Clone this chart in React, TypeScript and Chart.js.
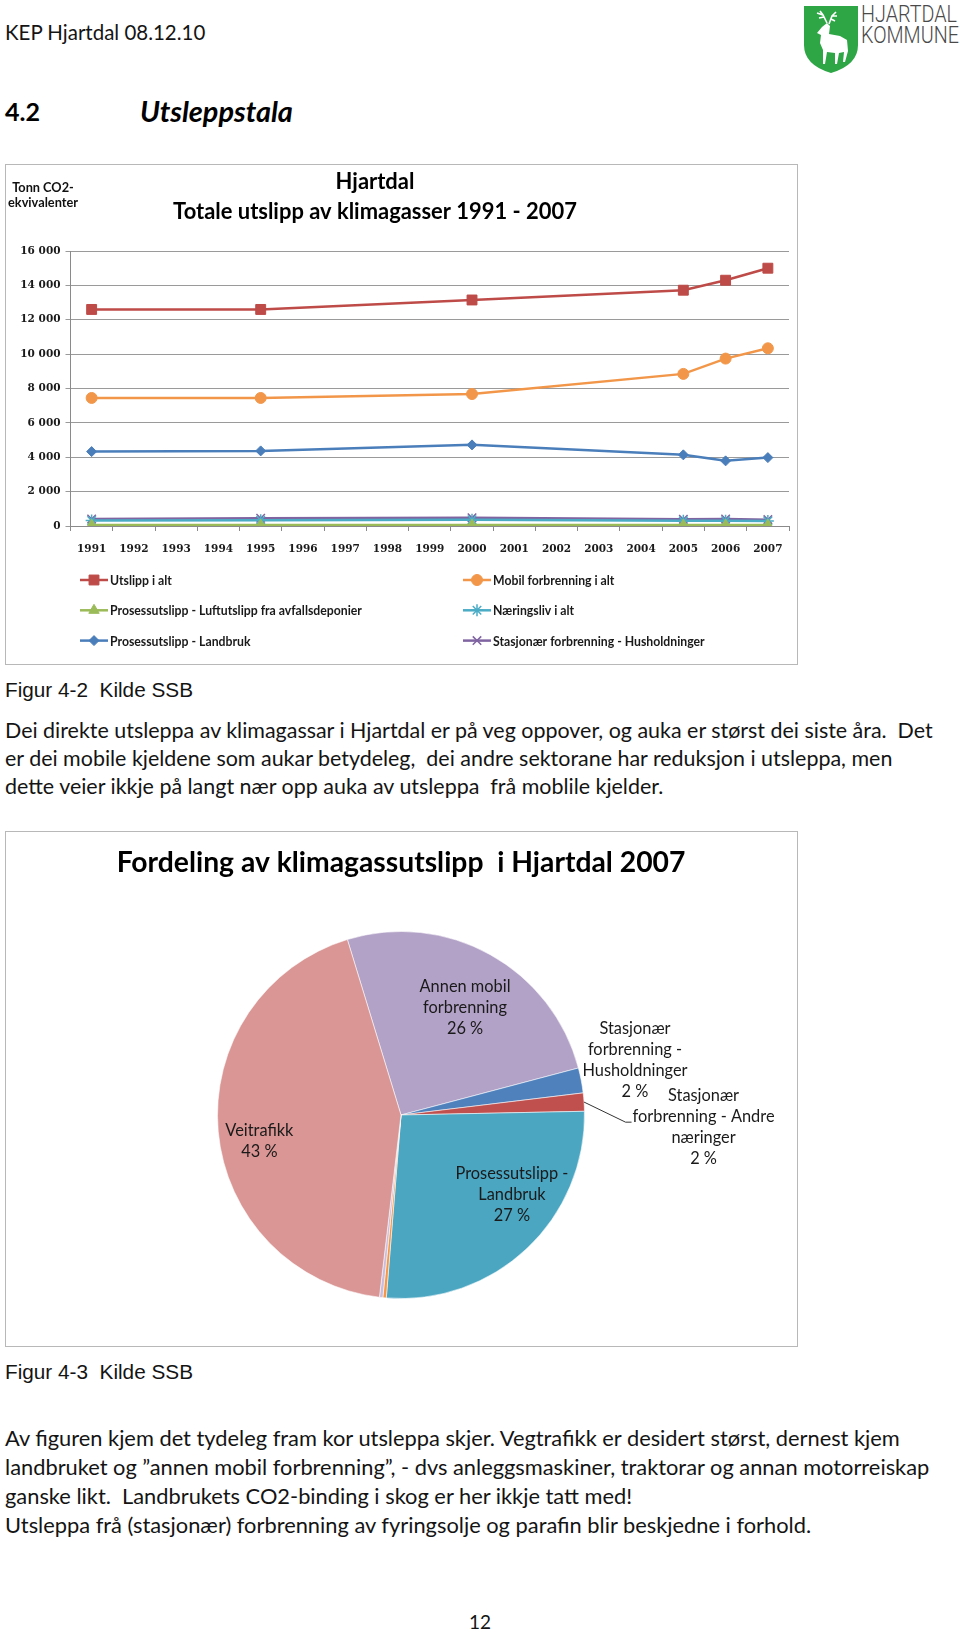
import React, { useEffect, useRef } from 'react';
import { Chart, registerables } from 'chart.js';
import { drawPoint } from 'chart.js/helpers';

Chart.register(...registerables);

if (typeof document !== 'undefined') {
  document.body.style.margin = '0';
  document.documentElement.style.overflow = 'hidden';
  document.body.style.overflow = 'hidden';
}

// ---------------- Data: line chart ----------------
const years = ['1991', '1992', '1993', '1994', '1995', '1996', '1997', '1998', '1999', '2000', '2001', '2002', '2003', '2004', '2005', '2006', '2007'];
const utslippIAlt = [12600, null, null, null, 12600, null, null, null, null, 13150, null, null, null, null, 13720, 14300, 15000];
const mobilForbrenning = [7450, null, null, null, 7450, null, null, null, null, 7680, null, null, null, null, 8850, 9740, 10340];
const luftutslippDeponier = [60, null, null, null, 60, null, null, null, null, 60, null, null, null, null, 60, 60, 60];
const naeringsliv = [320, null, null, null, 340, null, null, null, null, 360, null, null, null, null, 300, 310, 290];
const landbruk = [4330, null, null, null, 4370, null, null, null, null, 4720, null, null, null, null, 4140, 3790, 3980];
const husholdninger = [410, null, null, null, 450, null, null, null, null, 480, null, null, null, null, 390, 410, 370];
const lineSeriesNames = [
  'Utslipp i alt',
  'Mobil forbrenning i alt',
  'Prosessutslipp - Luftutslipp fra avfallsdeponier',
  'Næringsliv i alt',
  'Prosessutslipp - Landbruk',
  'Stasjonær forbrenning - Husholdninger',
];
const lineTitle = ['Hjartdal', 'Totale utslipp av klimagasser 1991 - 2007'];
const yAxisTitle = ['Tonn CO2-', 'ekvivalenter'];
const yMin = 0;
const yMax = 16000;
const yStep = 2000;

// ---------------- Data: pie chart ----------------
const pieTitle = 'Fordeling av klimagassutslipp  i Hjartdal 2007';
const pieNames = [
  ['Annen mobil', 'forbrenning'],
  ['Stasjonær', 'forbrenning -', 'Husholdninger'],
  ['Stasjonær', 'forbrenning - Andre', 'næringer'],
  ['Prosessutslipp -', 'Landbruk'],
  ['Prosessutslipp - Avfallsdeponier'],
  ['Andre kjelder'],
  ['Veitrafikk'],
];
const pieShares = [25.6, 2.2, 1.6, 26.6, 0.3, 0.3, 43.4];

// ---------------- Page text ----------------
const headerText = 'KEP Hjartdal 08.12.10';
const caption1 = 'Figur 4-2  Kilde SSB';
const caption2 = 'Figur 4-3  Kilde SSB';
const para1 = [
  'Dei direkte utsleppa av klimagassar i Hjartdal er på veg oppover, og auka er størst dei siste åra.  Det',
  'er dei mobile kjeldene som aukar betydeleg,  dei andre sektorane har reduksjon i utsleppa, men',
  'dette veier ikkje på langt nær opp auka av utsleppa  frå moblile kjelder.',
];
const para2 = [
  'Av figuren kjem det tydeleg fram kor utsleppa skjer. Vegtrafikk er desidert størst, dernest kjem',
  'landbruket og ”annen mobil forbrenning”, - dvs anleggsmaskiner, traktorar og annan motorreiskap',
  'ganske likt.  Landbrukets CO2-binding i skog er her ikkje tatt med!',
  'Utsleppa frå (stasjonær) forbrenning av fyringsolje og parafin blir beskjedne i forhold.',
];

// ---------------- Styles ----------------
const lineStyles = [
  { color: '#BE4B48', pointStyle: 'rect', radius: 7, bw: 1 },
  { color: '#F2974A', pointStyle: 'circle', radius: 5.5, bw: 1 },
  { color: '#9BBB59', pointStyle: 'triangle', radius: 6, bw: 1 },
  { color: '#4BACC6', pointStyle: 'star', radius: 6, bw: 1.5 },
  { color: '#4A7EBB', pointStyle: 'rectRot', radius: 5, bw: 1 },
  { color: '#7F64A1', pointStyle: 'crossRot', radius: 6, bw: 1.5 },
];
const pieColors = ['#B3A2C7', '#4F81BD', '#C0504D', '#4BA6C2', '#F79646', '#C9BDDD', '#D99694'];
// label placement relative to each slice: angle shift (deg) and radius fraction
const piePlacement = [
  { delta: 1.8, frac: 0.68 },
  { delta: -2.35, frac: 1.31 },
  { delta: 6.3, frac: 1.65, leader: true },
  { delta: -11, frac: 0.745 },
  null,
  null,
  { delta: -5.35, frac: 0.785 },
];

const SANS = 'Lato';

let _mctx: CanvasRenderingContext2D | null = null;
function mctx(): CanvasRenderingContext2D {
  if (!_mctx) _mctx = document.createElement('canvas').getContext('2d');
  return _mctx as CanvasRenderingContext2D;
}
function fitPx(text: string, weight: string, family: string, target: number, style = 'normal'): number {
  const c = mctx();
  c.font = `${style} ${weight} 100px ${family}`;
  const w = c.measureText(text).width || 1;
  return (100 * target) / w;
}
function fmt(v: number) {
  return String(v).replace(/\B(?=(\d{3})+(?!\d))/g, ' ');
}

const lineDecor = {
  id: 'lineDecor',
  afterDraw(chart: any) {
    const ctx = chart.ctx as CanvasRenderingContext2D;
    ctx.save();
    ctx.fillStyle = '#000';
    ctx.textAlign = 'center';
    ctx.textBaseline = 'middle';
    const ts = fitPx(lineTitle[1], 'bold', SANS, 404);
    ctx.font = `bold ${ts}px ${SANS}`;
    ctx.fillText(lineTitle[0], 369, 17);
    ctx.fillText(lineTitle[1], 369, 47);

    const ys = fitPx(yAxisTitle[1], 'bold', SANS, 70);
    ctx.font = `bold ${ys}px ${SANS}`;
    ctx.fillStyle = '#111';
    ctx.fillText(yAxisTitle[0], 37, 23);
    ctx.fillText(yAxisTitle[1], 37, 38);

    // legend, two columns
    const ls = fitPx(lineSeriesNames[2], 'bold', SANS, 252);
    ctx.textAlign = 'left';
    ctx.font = `bold ${ls}px ${SANS}`;
    chart.data.datasets.forEach((ds: any, i: number) => {
      const col = i % 2;
      const row = Math.floor(i / 2);
      const x0 = col === 0 ? 74 : 457;
      const y0 = 415 + row * 30.3;
      ctx.strokeStyle = ds.borderColor;
      ctx.lineWidth = 2.5;
      ctx.beginPath();
      ctx.moveTo(x0, y0);
      ctx.lineTo(x0 + 28, y0);
      ctx.stroke();
      ctx.fillStyle = ds.pointBackgroundColor;
      ctx.strokeStyle = ds.pointBorderColor;
      ctx.lineWidth = ds.pointBorderWidth;
      drawPoint(ctx, { pointStyle: ds.pointStyle, radius: ds.pointRadius, rotation: 0, borderWidth: ds.pointBorderWidth } as any, x0 + 14, y0);
      ctx.fillStyle = '#1a1a1a';
      ctx.fillText(ds.label, x0 + 30, y0 + 1);
    });
    ctx.restore();
  },
};

const pieDecor = {
  id: 'pieDecor',
  afterDraw(chart: any) {
    const ctx = chart.ctx as CanvasRenderingContext2D;
    ctx.save();
    ctx.fillStyle = '#000';
    ctx.textAlign = 'center';
    ctx.textBaseline = 'middle';
    const ts = fitPx(pieTitle, 'bold', SANS, 569);
    ctx.font = `bold ${ts}px ${SANS}`;
    ctx.fillText(pieTitle, 395, 31);

    const fs = fitPx('Annen mobil', 'normal', SANS, 91);
    ctx.font = `normal ${fs}px ${SANS}`;
    const lh = 21;
    const meta = chart.getDatasetMeta(0);
    const values = chart.data.datasets[0].data as number[];
    const total = values.reduce((a, b) => a + b, 0);
    meta.data.forEach((arc: any, i: number) => {
      const place = piePlacement[i];
      if (!place) return;
      const p = arc.getProps(['x', 'y', 'startAngle', 'endAngle', 'outerRadius'], true);
      const mid = (p.startAngle + p.endAngle) / 2;
      const a = mid + (place.delta * Math.PI) / 180;
      const lx = p.x + Math.cos(a) * p.outerRadius * place.frac;
      const ly = p.y + Math.sin(a) * p.outerRadius * place.frac;
      const lines = [...pieNames[i], `${Math.round((values[i] / total) * 100)} %`];
      const n = lines.length;
      ctx.fillStyle = '#1a1a1a';
      lines.forEach((t, k) => ctx.fillText(t, lx, ly + (k - (n - 1) / 2) * lh));
      if ((place as any).leader) {
        const w2 = ctx.measureText(lines[1]).width;
        const left = lx - w2 / 2;
        const ey = ly + (1 - (n - 1) / 2) * lh + fs * 0.35;
        const sx = p.x + Math.cos(mid) * p.outerRadius;
        const sy = p.y + Math.sin(mid) * p.outerRadius;
        ctx.strokeStyle = '#333';
        ctx.lineWidth = 1;
        ctx.beginPath();
        ctx.moveTo(sx, sy);
        ctx.lineTo(left - 7, ey);
        ctx.lineTo(left - 1, ey);
        ctx.stroke();
      }
    });
    ctx.restore();
  },
};

function TextLine(props: {
  text: string; x: number; cy: number; size: number; family: string;
  weight?: string; italic?: boolean; color?: string; center?: boolean;
}) {
  const { text, x, cy, size, family, weight = 'normal', italic = false, color = '#141414', center = false } = props;
  const lh = size * 1.2;
  return (
    <div
      style={{
        position: 'absolute',
        left: center ? x - 200 : x,
        width: center ? 400 : undefined,
        textAlign: center ? 'center' : 'left',
        top: cy - size * 0.62,
        fontSize: size,
        lineHeight: `${lh}px`,
        fontFamily: family,
        fontWeight: weight as any,
        fontStyle: italic ? 'italic' : 'normal',
        color,
        whiteSpace: 'pre',
      }}
    >
      {text}
    </div>
  );
}

function Logo() {
  const hs = 24;
  const s = fitPx('HJARTDAL', '300', 'Roboto', 96);
  const sx = s / hs;
  return (
    <>
      <svg style={{ position: 'absolute', left: 803, top: 5 }} width={56} height={69} viewBox="0 0 56 69">
        <path d="M1 1 H55 V40 Q55 60 28 68 Q1 60 1 40 Z" fill="#2EA646" />
        <path
          d="M19 22 L24 18 L27 21 L26 29 L37 31 L44 35 L45 46 L42 57 L40 57 L41 47 L36 48 L34 59 L32 59 L32 48 L24 47 L22 59 L20 59 L20 45 L17 38 L18 30 L14 28 Z"
          fill="#fff"
        />
        <path d="M24 18 L20 10 L17 6 M20 10 L14 8 M21 12 L16 13 M26 19 L29 11 L33 7 M29 11 L34 11 M28 14 L32 16" stroke="#fff" strokeWidth={1.6} fill="none" />
      </svg>
      <div style={{ position: 'absolute', left: 861, top: 4, fontFamily: 'Roboto', fontWeight: 300, fontSize: hs, lineHeight: '21px', color: '#4a4a4a', transform: `scaleX(${sx})`, transformOrigin: 'left top', whiteSpace: 'pre' }}>
        {'HJARTDAL\nKOMMUNE'}
      </div>
    </>
  );
}

export default function App() {
  const lineRef = useRef<HTMLCanvasElement>(null);
  const pieRef = useRef<HTMLCanvasElement>(null);

  useEffect(() => {
    const seriesValues = [utslippIAlt, mobilForbrenning, luftutslippDeponier, naeringsliv, landbruk, husholdninger];
    const lc = new Chart(lineRef.current as HTMLCanvasElement, {
      type: 'line',
      data: {
        labels: years,
        datasets: seriesValues.map((vals, i) => ({
          label: lineSeriesNames[i],
          data: vals,
          borderColor: lineStyles[i].color,
          backgroundColor: lineStyles[i].color,
          borderWidth: 2.5,
          pointStyle: lineStyles[i].pointStyle as any,
          pointRadius: lineStyles[i].radius,
          pointBackgroundColor: lineStyles[i].color,
          pointBorderColor: lineStyles[i].color,
          pointBorderWidth: lineStyles[i].bw,
          spanGaps: true,
          tension: 0,
        })),
      },
      options: {
        responsive: false,
        animation: false,
        layout: { padding: { top: 86, right: 6, bottom: 98, left: 0 } },
        plugins: { legend: { display: false }, tooltip: { enabled: false }, title: { display: false } },
        scales: {
          x: {
            type: 'category',
            offset: true,
            grid: { offset: true, drawOnChartArea: false, drawTicks: true, tickLength: 5, color: '#8a8a8a' },
            border: { color: '#8a8a8a', width: 1 },
            ticks: {
              autoSkip: false,
              maxRotation: 0,
              padding: 12,
              color: '#1a1a1a',
              font: { family: 'DejaVu Serif', weight: 'bold', size: 10.5 },
            },
            afterFit: (s: any) => { s.height = 40; },
          },
          y: {
            min: yMin,
            max: yMax,
            grid: { color: '#9a9a9a', tickLength: 5, drawTicks: true },
            border: { color: '#8a8a8a', width: 1 },
            ticks: {
              stepSize: yStep,
              padding: 5,
              color: '#1a1a1a',
              font: { family: 'DejaVu Serif', weight: 'bold', size: 10.5 },
              callback: (v: any) => fmt(Number(v)),
            },
            afterFit: (s: any) => { s.width = 64.5; },
          },
        },
      } as any,
      plugins: [lineDecor],
    });

    const pc = new Chart(pieRef.current as HTMLCanvasElement, {
      type: 'pie',
      data: {
        labels: pieNames.map((n) => n.join(' ')),
        datasets: [{
          data: pieShares,
          backgroundColor: pieColors,
          borderColor: 'rgba(255,255,255,0.55)',
          borderWidth: 1,
        }],
      },
      options: {
        responsive: false,
        animation: false,
        rotation: -17,
        layout: { padding: { left: 211, top: 99, right: 212, bottom: 47 } },
        plugins: { legend: { display: false }, tooltip: { enabled: false }, title: { display: false } },
      } as any,
      plugins: [pieDecor],
    });

    return () => {
      lc.destroy();
      pc.destroy();
    };
  }, []);

  const headerSize = fitPx(headerText, 'normal', SANS, 201);
  const h42 = fitPx('4.2', 'bold', SANS, 35);
  const hUts = fitPx('Utsleppstala', 'bold', SANS, 153, 'italic');
  const capSize = fitPx(caption1, 'normal', '"Liberation Sans"', 188);
  const p1Size = fitPx(para1[0], 'normal', SANS, 931);
  const p2Size = fitPx(para2[1], 'normal', SANS, 925);

  return (
    <div style={{ position: 'absolute', left: 0, top: 0, width: 960, height: 1634, background: '#fff', overflow: 'hidden' }}>
      <TextLine text={headerText} x={5} cy={33} size={headerSize} family={SANS} />
      <Logo />
      <TextLine text="4.2" x={5} cy={112} size={h42} family={SANS} weight="bold" color="#000" />
      <TextLine text="Utsleppstala" x={140} cy={112} size={hUts} family={SANS} weight="bold" italic color="#000" />

      <div style={{ position: 'absolute', left: 5, top: 164, width: 793, height: 501, border: '1px solid #b8b8b8', boxSizing: 'border-box', background: '#fff' }}>
        <canvas ref={lineRef} width={791} height={499} style={{ width: 791, height: 499, display: 'block' }} />
      </div>

      <TextLine text={caption1} x={5} cy={691} size={capSize} family='"Liberation Sans"' />
      {para1.map((t, i) => (
        <TextLine key={'p1' + i} text={t} x={5} cy={731 + i * 28} size={p1Size} family={SANS} />
      ))}

      <div style={{ position: 'absolute', left: 5, top: 831, width: 793, height: 516, border: '1px solid #b8b8b8', boxSizing: 'border-box', background: '#fff' }}>
        <canvas ref={pieRef} width={791} height={514} style={{ width: 791, height: 514, display: 'block' }} />
      </div>

      <TextLine text={caption2} x={5} cy={1373} size={capSize} family='"Liberation Sans"' />
      {para2.map((t, i) => (
        <TextLine key={'p2' + i} text={t} x={5} cy={1439 + i * 28.7} size={p2Size} family={SANS} />
      ))}

      <TextLine text="12" x={480} cy={1623} size={19} family={SANS} center />
    </div>
  );
}
